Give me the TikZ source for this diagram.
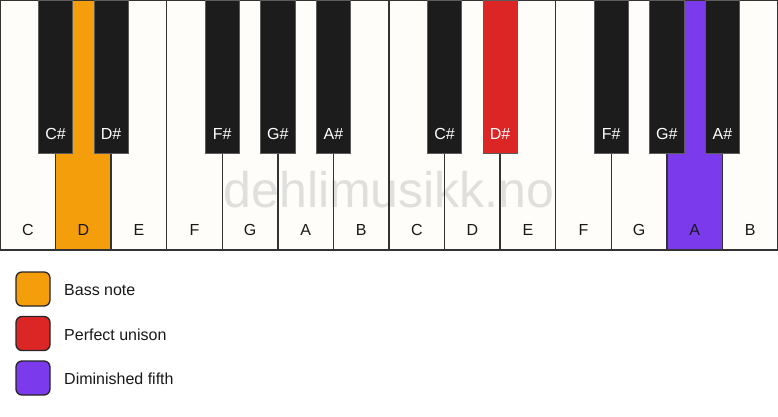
\documentclass[tikz,border=0pt]{standalone}
\usepackage{fontspec}
\setmainfont{Liberation Sans}
\definecolor{keywhite}{HTML}{FFFDF9}
\definecolor{keyblack}{HTML}{1C1C1C}
\definecolor{bass}{HTML}{F59E0B}
\definecolor{unison}{HTML}{DC2626}
\definecolor{dimfifth}{HTML}{7C3AED}
\definecolor{edge}{HTML}{333333}
\definecolor{wmark}{HTML}{DFDFDD}
\begin{document}
\begin{tikzpicture}[x=1pt,y=-1pt,
  whitekey/.style={fill=keywhite, minimum width=55.5714pt, minimum height=250pt, inner sep=0pt, outer sep=0pt, anchor=north west},
  keyedge/.style={draw=edge, line width=1.5pt},
  blackkey/.style={fill=keyblack, draw=edge!80!white, line width=0.8pt, minimum width=34.4pt, minimum height=153pt, inner sep=0pt, outer sep=0pt, anchor=north},
  wlabel/.style={anchor=base, inner sep=0pt, text=black!90, font=\fontsize{16}{19}\selectfont},
  blabel/.style={anchor=base, inner sep=0pt, text=white, font=\fontsize{16}{19}\selectfont},
  wmstyle/.style={anchor=base, inner sep=0pt, text=wmark, font=\fontsize{50}{58}\selectfont},
  legendbox/.style={draw=black!85, line width=1.3pt, rounded corners=6pt, minimum size=34pt, inner sep=0pt},
  legendtext/.style={anchor=base west, inner sep=0pt, text=black!90, font=\fontsize{16}{19}\selectfont}
]
\useasboundingbox (0,0) rectangle (778,417);
\fill[white] (0,0) rectangle (778,417);
% white keys
\foreach \i/\n/\c in {0/C/keywhite,1/D/bass,2/E/keywhite,3/F/keywhite,4/G/keywhite,5/A/keywhite,6/B/keywhite,7/C/keywhite,8/D/keywhite,9/E/keywhite,10/F/keywhite,11/G/keywhite,12/A/dimfifth,13/B/keywhite}{
  \node[whitekey, fill=\c] (w\i) at (\i*55.5714,0) {};
}
% watermark
\node[wmstyle] (watermark) at (389,207) {dehlimusikk.no};
% key outlines and labels
\foreach \i/\n in {0/C,1/D,2/E,3/F,4/G,5/A,6/B,7/C,8/D,9/E,10/F,11/G,12/A,13/B}{
  \draw[keyedge] (w\i.north west) rectangle (w\i.south east);
  \node[wlabel] (wl\i) at (\i*55.5714+27.7857,235.7) {\n};
}
% black keys
\foreach \b/\n/\c [count=\k] in {1/C\#/keyblack,2/D\#/keyblack,4/F\#/keyblack,5/G\#/keyblack,6/A\#/keyblack,8/C\#/keyblack,9/D\#/unison,11/F\#/keyblack,12/G\#/keyblack,13/A\#/keyblack}{
  \node[blackkey, fill=\c] (b\k) at (\b*55.5714,0) {};
  \node[blabel] (bl\k) at (\b*55.5714,139.3) {\n};
}
% legend
\node[legendbox, fill=bass] (lb1) at (33,289) {};
\node[legendtext] (lt1) at (64,295.7) {Bass note};
\node[legendbox, fill=unison] (lb2) at (33,333.5) {};
\node[legendtext] (lt2) at (64,340.2) {Perfect unison};
\node[legendbox, fill=dimfifth] (lb3) at (33,378) {};
\node[legendtext] (lt3) at (64,384.7) {Diminished fifth};
\end{tikzpicture}
\end{document}
